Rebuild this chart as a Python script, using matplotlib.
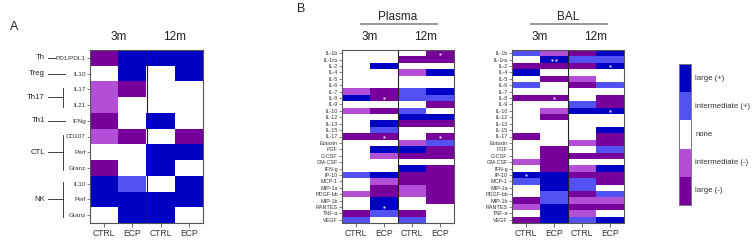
"""Heatmaps: cell-mediated markers (A) and plasma / BAL cytokines (B), CTRL vs ECP at 3m and 12m."""
import matplotlib
matplotlib.use("Agg")
import matplotlib.pyplot as plt  # noqa: E402
from matplotlib.colors import ListedColormap, BoundaryNorm  # noqa: E402
from matplotlib.transforms import blended_transform_factory  # noqa: E402

plt.rcParams["font.family"] = ["Liberation Sans", "DejaVu Sans"]

# -2 large(-), -1 intermediate(-), 0 none, 1 intermediate(+), 2 large(+)
COLS = ["CTRL", "ECP", "CTRL", "ECP"]
TIMES = ["3m", "12m"]
LEVELS = ["large (+)", "intermediate (+)", "none", "intermediate (-)", "large (-)"]

A_ROWS = ["PD1/PDL1", "IL10", "IL17", "IL21", "IFNg", "CD107", "Perf", "Granz",
          "IL10", "Perf", "Granz"]
A_VALS = [
    [-2, 2, 2, 2],
    [0, 2, 0, 2],
    [-1, -2, 0, 0],
    [-1, 0, 0, 0],
    [-2, 0, 2, 0],
    [-1, -2, 0, -2],
    [0, 0, 2, 2],
    [-2, 0, 2, 0],
    [2, 1, 0, 2],
    [2, 2, 2, 2],
    [0, 2, 2, 0],
]
A_GROUPS = [("Th", 0, 0), ("Treg", 1, 1), ("Th17", 2, 3), ("Th1", 4, 4),
            ("CTL", 5, 7), ("NK", 8, 10)]

B_ROWS = ["IL-1b", "IL-1ra", "IL-2", "IL-4", "IL-5", "IL-6", "IL-7", "IL-8", "IL-9",
          "IL-10", "IL-12", "IL-13", "IL-15", "IL-17", "Eotaxin", "FGF", "G-CSF",
          "GM-CSF", "IFN-g", "IP-10", "MCP-1", "MIP-1a", "PDGF-bb", "MIP-1b",
          "RANTES", "TNF-a", "VEGF"]
PLASMA_VALS = [
    [0, 0, 0, -2], [0, 0, -2, -2], [0, 2, 0, 0], [0, 0, -1, 2], [0, 0, 0, 0],
    [0, 0, 0, 0], [-1, -2, 1, 2], [2, -2, 1, 1], [0, 0, 0, -2], [-1, -2, 1, 0],
    [0, 0, 2, 2], [0, 2, -2, -2], [0, 1, 0, 0], [-2, -2, 0, -2], [0, 0, -1, 1],
    [0, 2, 2, -2], [0, -1, -2, -2], [0, 0, 0, 0], [0, 0, 2, -2], [1, 2, -2, -2],
    [0, -1, -2, -2], [0, -2, -1, -2], [-1, -2, -1, -2], [0, 2, 0, -2], [0, 2, 0, 0],
    [-2, 1, -2, 0], [1, 0, 1, 0],
]
BAL_VALS = [
    [1, -1, -2, 2], [0, 2, 1, 1], [-2, -2, -2, 2], [2, 0, 0, 0], [0, -2, -1, 0],
    [1, 0, -2, 1], [0, 0, 0, 0], [-2, -2, 0, -2], [0, 0, 1, -2], [0, -1, 2, 2],
    [0, -2, 0, 0], [0, 0, 0, 0], [0, 0, 0, 2], [-2, 0, 0, -2], [0, 0, -1, -2],
    [0, -2, 0, 1], [0, -2, -2, -2], [-1, -2, 0, 0], [0, -2, -1, 2], [2, 2, -2, -2],
    [1, 2, 1, -2], [0, 2, 1, 0], [0, 1, -2, 1], [-2, 1, -1, -1], [-1, 2, -2, -2],
    [0, 2, -1, 0], [-2, 2, 1, 2],
]
# (row, column index, number of asterisks)
PLASMA_STARS = [("IL-8", 1, 1), ("IL-17", 1, 1), ("RANTES", 1, 1),
                ("IL-1b", 3, 1), ("IL-17", 3, 1)]
BAL_STARS = [("IL-1ra", 1, 2), ("IL-8", 1, 1), ("IP-10", 0, 1),
             ("IL-2", 3, 1), ("IL-10", 3, 1)]

INK, FRAME = "#333333", "#555555"
CMAP = ListedColormap(["#78009a", "#b24fd6", "#ffffff", "#5252f2", "#0000c4"])
NORM = BoundaryNorm([-2.5, -1.5, -0.5, 0.5, 1.5, 2.5], CMAP.N)
W, H = 756, 241

fig = plt.figure(figsize=(W / 100, H / 100), dpi=100)


def px_axes(x0, y0, x1, y1):
    return fig.add_axes([x0 / W, 1 - y1 / H, (x1 - x0) / W, (y1 - y0) / H])


def heatmap(ax, vals, rows, ysize):
    n = len(rows)
    ax.imshow(vals, cmap=CMAP, norm=NORM, aspect="auto", extent=(0, 4, n, 0),
              interpolation="nearest")
    ax.axvline(2, color="#222222", lw=0.8)
    ax.set_xticks([0.5, 1.5, 2.5, 3.5], COLS, fontsize=6.2, color=INK)
    ax.set_yticks([i + 0.5 for i in range(n)], rows, fontsize=ysize, color=INK)
    ax.tick_params(axis="x", length=3, width=0.6, pad=1.5, color=FRAME)
    ax.tick_params(axis="y", length=2, width=0.5, pad=1, color=FRAME)
    for sp in ax.spines.values():
        sp.set_color(FRAME)
        sp.set_linewidth(0.8)
    for k, t in enumerate(TIMES):
        ax.text(0.25 + 0.5 * k, 1.075, t, transform=ax.transAxes, ha="center",
                va="center", fontsize=8.5, color="#222222")


def stars(ax, rows, marks):
    for name, col, count in marks:
        r = rows.index(name)
        for j in range(count):
            ax.plot(col + 0.5 + 0.14 * (j - (count - 1) / 2), r + 0.55, "s",
                    ms=1.7, color="#e6dcff", mec="none")


# ---- panel A
axA = px_axes(90, 50, 203, 223)
heatmap(axA, A_VALS, A_ROWS, 4.6)
tr = blended_transform_factory(axA.transAxes, axA.transData)
for name, r0, r1 in A_GROUPS:
    mid = (r0 + r1) / 2 + 0.5
    axA.text(-0.40, mid, name, transform=tr, ha="right", va="center",
             fontsize=5.6, color="#222222")
    if r0 == r1:
        end = -0.31 if name == "Th" else -0.225
        axA.plot([-0.375, end], [mid, mid], color="#222222", lw=0.6,
                 transform=tr, clip_on=False)
    else:
        axA.plot([-0.375, -0.24], [mid, mid], color="#222222", lw=0.6,
                 transform=tr, clip_on=False)
        axA.plot([-0.24, -0.24], [r0 + 0.4, r1 + 0.6], color="#222222", lw=0.6,
                 transform=tr, clip_on=False)
fig.text(10 / W, 1 - 27 / H, "A", fontsize=9, ha="left", va="center", color="#222222")

# ---- panel B
for (x0, x1), vals, marks, title in [((342, 454), PLASMA_VALS, PLASMA_STARS, "Plasma"),
                                     ((512, 624), BAL_VALS, BAL_STARS, "BAL")]:
    ax = px_axes(x0, 50, x1, 223)
    heatmap(ax, vals, B_ROWS, 3.9)
    stars(ax, B_ROWS, marks)
    ax.text(0.5, 1.19, title, transform=ax.transAxes, ha="center", va="center",
            fontsize=8.5, color="#222222")
    ax.plot([0.17, 0.85], [1.15, 1.15], transform=ax.transAxes, color="#999999",
            lw=1.4, clip_on=False)
fig.text(297 / W, 1 - 9 / H, "B", fontsize=9, ha="left", va="center", color="#222222")

# ---- colour key
axC = px_axes(679, 64, 691, 205)
axC.imshow([[v] for v in (2, 1, 0, -1, -2)], cmap=CMAP, norm=NORM, aspect="auto",
           extent=(0, 1, 5, 0))
axC.set_xticks([])
axC.set_yticks([])
for sp in axC.spines.values():
    sp.set_color("#777777")
    sp.set_linewidth(0.7)
for i, lab in enumerate(LEVELS):
    axC.text(1.35, i + 0.5, lab, fontsize=5.6, va="center", ha="left", color=INK)

fig.savefig("out.png", dpi=100, facecolor="white")
